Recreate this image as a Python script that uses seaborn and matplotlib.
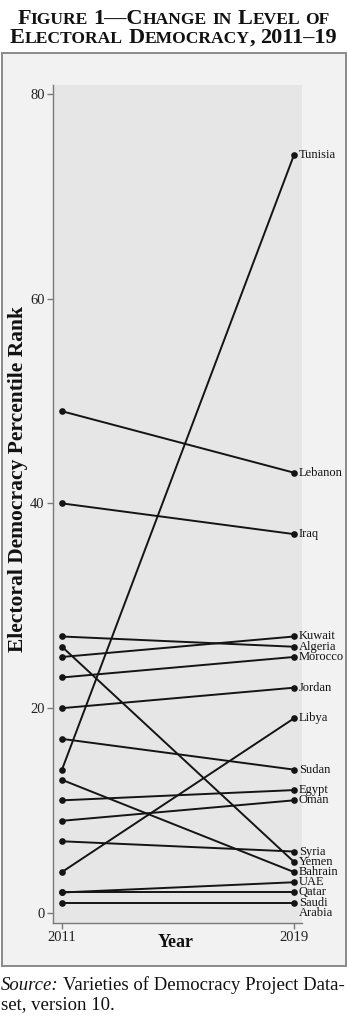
import matplotlib
matplotlib.use("Agg")
import matplotlib.pyplot as plt
import pandas as pd
import seaborn as sns
from matplotlib.offsetbox import TextArea, HPacker, AnnotationBbox
from matplotlib.patches import Rectangle

# Electoral democracy percentile rank, V-Dem
countries = ["Tunisia", "Lebanon", "Iraq", "Kuwait", "Algeria", "Morocco",
             "Jordan", "Libya", "Sudan", "Egypt", "Oman", "Syria", "Yemen",
             "Bahrain", "UAE", "Qatar", "Saudi Arabia"]
rank_2011 = [14, 49, 40, 25, 27, 23, 20, 4, 17, 11, 9, 7, 26, 13, 2, 2, 1]
rank_2019 = [74, 43, 37, 27, 26, 25, 22, 19, 14, 12, 11, 6, 5, 4, 3, 2, 1]
years = [2011, 2019]
y_ticks = [0, 20, 40, 60, 80]

sns.set_theme(style="ticks")
plt.rcParams["font.family"] = ["Liberation Serif", "DejaVu Serif"]

df = pd.DataFrame({
    "country": countries * 2,
    "year": [years[0]] * len(countries) + [years[1]] * len(countries),
    "rank": rank_2011 + rank_2019,
})

W, H = 347, 1024
fig = plt.figure(figsize=(W / 100, H / 100), dpi=100, facecolor="white")

# outer panel behind the axes
fig.patches.append(Rectangle((2 / W, 1 - 966 / H), 344 / W, 913 / H,
                             transform=fig.transFigure, facecolor="#f2f2f2",
                             edgecolor="#8a8a8a", lw=1.4, zorder=-5))

ax = fig.add_axes([53 / W, 1 - 923 / H, 249 / W, 838 / H])
ax.set_zorder(1)
ax.set_facecolor("#e6e6e6")

sns.lineplot(data=df, x="year", y="rank", units="country", estimator=None,
             color="#141414", lw=1.4, marker="o", markersize=4.8,
             markeredgewidth=0, ax=ax, clip_on=False)

for name, v in zip(countries, rank_2019):
    if name == "Saudi Arabia":
        ax.annotate("Saudi\nArabia", xy=(years[1], v), xytext=(3.6, 4.4),
                    textcoords="offset points", ha="left", va="top",
                    fontsize=9, linespacing=0.8, color="#111111",
                    annotation_clip=False)
    else:
        ax.annotate(name, xy=(years[1], v), xytext=(3.6, 0),
                    textcoords="offset points", ha="left", va="center",
                    fontsize=9, color="#111111", annotation_clip=False)

ax.set_xlim(2010.69, 2019.28)
ax.set_ylim(-0.98, 80.86)
ax.set_xticks(years)
ax.set_yticks(y_ticks)
ax.tick_params(axis="both", labelsize=10.5, colors="#7a7a7a", labelcolor="#222222",
               length=4, width=1, pad=2)
for side in ("top", "right"):
    ax.spines[side].set_visible(False)
for side in ("left", "bottom"):
    ax.spines[side].set_color("#7a7a7a")
    ax.spines[side].set_linewidth(1.0)

ax.set_xlabel("Year", fontsize=13, fontweight="bold", color="#111111")
ax.xaxis.set_label_coords(0.494, (923 - 934) / 838)
ax.set_ylabel("Electoral Democracy Percentile Rank", fontsize=15.5,
              fontweight="bold", color="#111111")
ax.yaxis.set_label_coords((28 - 53) / 249, (923 - 479) / 838)


def caps_line(parts, big, small, word_sep):
    words = []
    for word in parts:
        boxes = [TextArea(t, textprops=dict(fontsize=(big if b else small),
                                            fontweight="bold",
                                            color="#111111"))
                 for t, b in word]
        words.append(HPacker(children=boxes, align="baseline", pad=0, sep=0))
    return HPacker(children=words, align="baseline", pad=0, sep=word_sep)


line1 = [[("F", 1), ("IGURE", 0)], [("1—C", 1), ("HANGE", 0)], [("IN", 0)],
         [("L", 1), ("EVEL", 0)], [("OF", 0)]]
line2 = [[("E", 1), ("LECTORAL", 0)],
         [("D", 1), ("EMOCRACY", 0), (",", 1)], [("2011–19", 1)]]

for parts, yc in ((line1, 18.5), (line2, 38)):
    box = caps_line(parts, 16, 12.6, 4)
    fig.add_artist(AnnotationBbox(box, (0.5, 1 - yc / H),
                                  xycoords="figure fraction", frameon=False,
                                  box_alignment=(0.5, 0.5), pad=0))

src = HPacker(children=[
    TextArea("Source:", textprops=dict(fontsize=13.5, style="italic", color="#111111")),
    TextArea("Varieties of Democracy Project Data-",
             textprops=dict(fontsize=13.5, color="#111111")),
], align="baseline", pad=0, sep=3)
fig.add_artist(AnnotationBbox(src, (1 / W, 1 - 985 / H), xycoords="figure fraction",
                              frameon=False, box_alignment=(0, 0.5), pad=0))
fig.text(1 / W, 1 - 1005 / H, "set, version 10.", fontsize=13.5,
         color="#111111", ha="left", va="center")

fig.savefig("out.png", dpi=100, facecolor="white")
